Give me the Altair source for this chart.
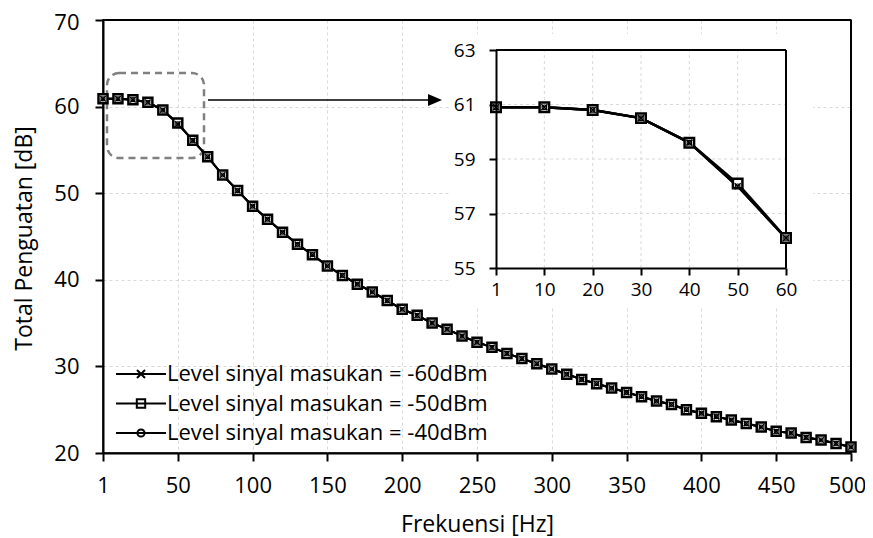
import altair as alt
import pandas as pd

# ---------------- data ----------------
freq = [1, 10, 20, 30, 40, 50, 60, 70, 80, 90, 100, 110, 120, 130, 140, 150, 160, 170, 180, 190,
        200, 210, 220, 230, 240, 250, 260, 270, 280, 290, 300, 310, 320, 330, 340, 350, 360, 370,
        380, 390, 400, 410, 420, 430, 440, 450, 460, 470, 480, 490, 500]

gain_m60 = [60.9, 60.9, 60.8, 60.5, 59.6, 58.0, 56.1, 54.2, 52.1, 50.3, 48.5, 47.0, 45.5, 44.1,
            42.9, 41.6, 40.5, 39.5, 38.6, 37.6, 36.6, 35.9, 35.0, 34.3, 33.5, 32.8, 32.2, 31.5,
            30.9, 30.3, 29.7, 29.1, 28.5, 28.0, 27.5, 27.0, 26.5, 26.0, 25.6, 25.0, 24.6, 24.2,
            23.8, 23.4, 23.0, 22.5, 22.3, 21.8, 21.5, 21.1, 20.7]
gain_m50 = [60.9, 60.9, 60.8, 60.5, 59.6, 58.1, 56.1, 54.2, 52.1, 50.3, 48.5, 47.0, 45.5, 44.1,
            42.9, 41.6, 40.5, 39.5, 38.6, 37.6, 36.6, 35.9, 35.0, 34.3, 33.5, 32.8, 32.2, 31.5,
            30.9, 30.3, 29.7, 29.1, 28.5, 28.0, 27.5, 27.0, 26.5, 26.0, 25.6, 25.0, 24.6, 24.2,
            23.8, 23.4, 23.0, 22.5, 22.3, 21.8, 21.5, 21.1, 20.7]
gain_m40 = [60.9, 60.9, 60.8, 60.5, 59.6, 58.0, 56.1, 54.2, 52.1, 50.3, 48.5, 47.0, 45.5, 44.1,
            42.9, 41.6, 40.5, 39.5, 38.6, 37.6, 36.6, 35.9, 35.0, 34.3, 33.5, 32.8, 32.2, 31.5,
            30.9, 30.3, 29.7, 29.1, 28.5, 28.0, 27.5, 27.0, 26.5, 26.0, 25.6, 25.0, 24.6, 24.2,
            23.8, 23.4, 23.0, 22.5, 22.3, 21.8, 21.5, 21.1, 20.7]

series_names = ["Level sinyal masukan = -60dBm",
                "Level sinyal masukan = -50dBm",
                "Level sinyal masukan = -40dBm"]

main_x_ticks = [1, 50, 100, 150, 200, 250, 300, 350, 400, 450, 500]
main_y_ticks = [20, 30, 40, 50, 60, 70]
inset_freq = [1, 10, 20, 30, 40, 50, 60]
inset_y_ticks = [55, 57, 59, 61, 63]
inset_x_grid = [10, 20, 30, 40, 50]
inset_y_grid = [57, 59, 61]

rows = []
for name, vals in zip(series_names, [gain_m60, gain_m50, gain_m40]):
    for f, g in zip(freq, vals):
        rows.append({"Hz": f, "gain": g, "series": name})
df = pd.DataFrame(rows)
inset_df = df[df["Hz"] <= 60]

FONT = "Open Sans"
X_PATH = "M-1,-1L1,1M-1,1L1,-1"
# legend symbols: a 50 px line with a small marker (symbol size 400 -> unit = 10 px)
legend_paths = [
    "M-2.5,0L2.5,0M-0.4,-0.4L0.4,0.4M-0.4,0.4L0.4,-0.4",
    "M-2.5,0L2.5,0M-0.42,-0.42L0.42,-0.42L0.42,0.42L-0.42,0.42Z",
    "M-2.5,0L2.5,0M-0.36,0A0.36,0.36,0,1,0,0.36,0A0.36,0.36,0,1,0,-0.36,0Z",
]

# ---------------- main chart ----------------
def mx(field="Hz"):
    return alt.X(f"{field}:O",
                 scale=alt.Scale(type="point", padding=0, domain=freq),
                 axis=alt.Axis(values=main_x_ticks, labelAngle=0, title="Frekuensi [Hz]",
                               grid=True, tickSize=8, labelPadding=14, labelFontSize=22,
                               labelOffset=alt.condition("datum.value == 500",
                                                         alt.value(-4), alt.value(0)),
                               titleFontSize=23, titleY=60, titleBaseline="top"))


def my(field="gain"):
    return alt.Y(f"{field}:Q",
                 scale=alt.Scale(domain=[20, 70], nice=False, zero=False),
                 axis=alt.Axis(values=main_y_ticks, title="Total Penguatan [dB]", grid=True,
                               tickSize=8, labelPadding=16, labelFontSize=22,
                               labelOffset=alt.condition("datum.value == 70",
                                                         alt.value(2), alt.value(0)),
                               titleFontSize=23, titleX=-67, titleY=218, titleAngle=270,
                               titleBaseline="bottom"))


one = pd.DataFrame({"k": [0]})
frame_top = pd.DataFrame({"gain": [70], "a": [1], "b": [500]})
frame_right = pd.DataFrame({"Hz": [500], "lo": [20], "hi": [70]})

inset_bg = alt.Chart(one).mark_rect(color="white").encode(
    x=alt.value(347), x2=alt.value(710), y=alt.value(14), y2=alt.value(286))

zoom_box = alt.Chart(one).mark_rect(fillOpacity=0, stroke="#808080", strokeWidth=2.5,
                                    strokeDash=[7, 5], cornerRadius=12).encode(
    x=alt.value(4), x2=alt.value(101), y=alt.value(53), y2=alt.value(138))

arrow_line = alt.Chart(one).mark_rule(color="black", strokeWidth=1.5).encode(
    x=alt.value(105), x2=alt.value(328), y=alt.value(80))

arrow_head = alt.Chart(one).mark_point(shape="M-1,-0.85L1,0L-1,0.85Z", size=196, filled=True,
                                       color="black", opacity=1).encode(
    x=alt.value(332), y=alt.value(80))

m_top = alt.Chart(frame_top).mark_rule(color="black", strokeWidth=2).encode(
    x=mx("a"), x2=alt.X2("b"), y=my("gain"))
m_right = alt.Chart(frame_right).mark_rule(color="black", strokeWidth=2).encode(
    x=mx("Hz"), y=my("lo"), y2=alt.Y2("hi"))

lines = alt.Chart(df).mark_line(color="black", strokeWidth=2).encode(
    x=mx(), y=my(), detail="series:N")

squares = alt.Chart(df).transform_filter(alt.datum.series == series_names[1]).mark_point(
    shape="square", size=81, filled=True, fill="white", stroke="black", strokeWidth=2.5,
    opacity=1).encode(x=mx(), y=my())

crosses = alt.Chart(df).transform_filter(alt.datum.series == series_names[0]).mark_point(
    shape=X_PATH, size=30, filled=False, stroke="black", strokeWidth=1.5,
    opacity=1).encode(x=mx(), y=my())

circles = alt.Chart(df).transform_filter(alt.datum.series == series_names[2]).mark_point(
    shape="circle", size=16, filled=False, stroke="black", strokeWidth=1.2,
    opacity=1).encode(x=mx(), y=my())

legend_layer = alt.Chart(df).mark_point(filled=False, color="black", opacity=0,
                                        strokeWidth=2).encode(
    x=mx(), y=my(),
    shape=alt.Shape("series:N",
                    scale=alt.Scale(domain=series_names, range=legend_paths),
                    legend=alt.Legend(title=None, orient="none", legendX=27, legendY=343,
                                      labelFont=FONT, labelFontSize=22, labelColor="black",
                                      symbolSize=400, symbolStrokeWidth=2,
                                      symbolStrokeColor="black", symbolOpacity=1,
                                      rowPadding=7.5, labelOffset=15, padding=0,
                                      labelLimit=500)))

main = alt.layer(inset_bg, zoom_box, arrow_line, arrow_head, m_top, m_right, lines, squares,
                 crosses, circles, legend_layer)

# ---------------- inset chart ----------------
def ix(field="Hz"):
    return alt.X(f"{field}:O",
                 scale=alt.Scale(type="point", padding=0, domain=inset_freq, range=[393, 683]),
                 axis=alt.Axis(orient="bottom", offset=-185, values=inset_freq, labelAngle=0,
                               title=None, grid=False, tickSize=7, labelPadding=5,
                               labelFontSize=19, zindex=1))


def iy(field="gain"):
    return alt.Y(f"{field}:Q",
                 scale=alt.Scale(domain=[55, 63], range=[248, 30], nice=False, zero=False),
                 axis=alt.Axis(orient="left", offset=-393, values=inset_y_ticks, title=None,
                               grid=False, tickSize=7, labelPadding=14, labelFontSize=19,
                               zindex=1))


vgrid = pd.DataFrame({"Hz": inset_x_grid, "lo": 55, "hi": 63})
hgrid = pd.DataFrame({"gain": inset_y_grid, "a": 1, "b": 60})
top_frame = pd.DataFrame({"gain": [63], "a": [1], "b": [60]})
right_frame = pd.DataFrame({"Hz": [60], "lo": [55], "hi": [63]})

i_vgrid = alt.Chart(vgrid).mark_rule(color="#d9d9d9", strokeDash=[3, 3], strokeWidth=1).encode(
    x=ix("Hz"), y=iy("lo"), y2=alt.Y2("hi"))
i_hgrid = alt.Chart(hgrid).mark_rule(color="#d9d9d9", strokeDash=[3, 3], strokeWidth=1).encode(
    x=ix("a"), x2=alt.X2("b"), y=iy("gain"))
i_top = alt.Chart(top_frame).mark_rule(color="black", strokeWidth=2).encode(
    x=ix("a"), x2=alt.X2("b"), y=iy("gain"))
i_right = alt.Chart(right_frame).mark_rule(color="black", strokeWidth=2).encode(
    x=ix("Hz"), y=iy("lo"), y2=alt.Y2("hi"))

i_lines = alt.Chart(inset_df).mark_line(color="black", strokeWidth=2.5).encode(
    x=ix(), y=iy(), detail="series:N")
i_squares = alt.Chart(inset_df).transform_filter(alt.datum.series == series_names[1]).mark_point(
    shape="square", size=90, filled=True, fill="white", stroke="black", strokeWidth=2.5,
    opacity=1).encode(x=ix(), y=iy())
i_crosses = alt.Chart(inset_df).transform_filter(alt.datum.series == series_names[0]).mark_point(
    shape=X_PATH, size=36, filled=False, stroke="black", strokeWidth=1.5,
    opacity=1).encode(x=ix(), y=iy())
i_circles = alt.Chart(inset_df).transform_filter(alt.datum.series == series_names[2]).mark_point(
    shape="circle", size=20, filled=False, stroke="black", strokeWidth=1.2,
    opacity=1).encode(x=ix(), y=iy())

inset = alt.layer(i_vgrid, i_hgrid, i_top, i_right, i_lines, i_squares, i_crosses, i_circles)

chart = alt.layer(main, inset).resolve_scale(
    x="independent", y="independent"
).properties(
    width=748, height=433,
    padding={"left": 95, "top": 12, "right": 14, "bottom": 85},
    autosize=alt.AutoSizeParams(type="none"),
).configure_view(
    stroke="black", strokeWidth=1.5
).configure_axis(
    domainColor="black", domainWidth=2, tickColor="black", tickWidth=2,
    gridColor="#d9d9d9", gridDash=[3, 3], gridWidth=1,
    labelColor="black", labelFont=FONT, titleFont=FONT, titleFontWeight="normal",
    titleColor="black",
)

chart.save("out.html", embed_options={"renderer": "svg", "actions": False})
